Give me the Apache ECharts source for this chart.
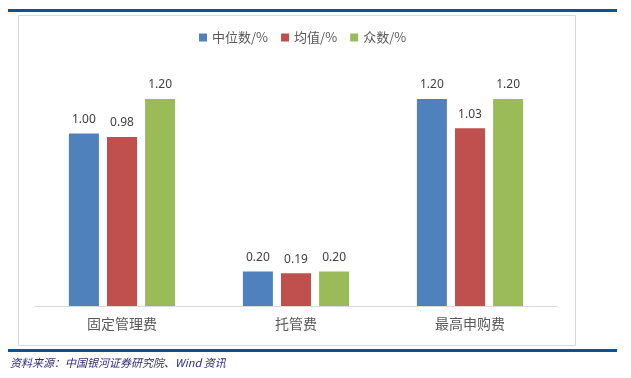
<!DOCTYPE html>
<html>
<head>
<meta charset="utf-8">
<script src="https://cdn.jsdelivr.net/npm/echarts@6/dist/echarts.min.js"></script>
<style>
	html, body { margin: 0; padding: 0; background: #fff; }
	#chart { width: 631px; height: 378px; }
</style>
</head>
<body>
<div id="chart"></div>
<script>
// 费率统计
var categories = ['固定管理费', '托管费', '最高申购费'];
var seriesNames = ['中位数/%', '均值/%', '众数/%'];
var medianVals = [1.00, 0.20, 1.20];
var meanVals = [0.98, 0.19, 1.03];
var modeVals = [1.20, 0.20, 1.20];
var colors = ['#4F81BD', '#C0504D', '#9BBB59'];

var feeChart = echarts.init(document.getElementById('chart'));

function makeSeries(name, data, color) {
	return {
		name: name,
		type: 'bar',
		barWidth: 30,
		barGap: '27%',
		data: data,
		itemStyle: { color: color },
		label: {
			show: true,
			position: 'top',
			distance: 8,
			color: '#404040',
			fontSize: 12,
			fontFamily: 'Noto Sans',
			formatter: function(p) { return p.value.toFixed(2); }
		}
	};
}

var option = {
	animation: false,
	textStyle: { fontFamily: 'Noto Sans CJK SC' },
	legend: {
		top: 26,
		left: 194,
		itemWidth: 8,
		itemHeight: 8,
		itemGap: 13,
		icon: 'rect',
		textStyle: { color: '#595959', fontSize: 13, fontFamily: 'Noto Sans CJK SC' },
		data: seriesNames
	},
	grid: {
		left: 35,
		right: 74,
		top: 64.5,
		bottom: 72
	},
	xAxis: {
		type: 'category',
		data: categories,
		axisLine: { lineStyle: { color: '#D9D9D9', width: 1 } },
		axisTick: { show: false },
		axisLabel: { color: '#595959', fontSize: 14, margin: 11, fontFamily: 'Noto Sans CJK SC' }
	},
	yAxis: {
		type: 'value',
		min: 0,
		max: 1.4,
		show: false,
		splitLine: { show: false }
	},
	series: [
		makeSeries(seriesNames[0], medianVals, colors[0]),
		makeSeries(seriesNames[1], meanVals, colors[1]),
		makeSeries(seriesNames[2], modeVals, colors[2])
	],
	graphic: [
		{ type: 'rect', shape: { x: 18.5, y: 15.5, width: 557, height: 330 }, style: { fill: 'none', stroke: '#D9D9D9', lineWidth: 1 }, z: -1 },
		{ type: 'rect', shape: { x: 8, y: 9, width: 609, height: 3 }, style: { fill: '#0B5394' } },
		{ type: 'rect', shape: { x: 8, y: 349, width: 609, height: 3 }, style: { fill: '#0B5394' } },
		{ type: 'text', left: 10, top: 357, style: { text: '资料来源：中国银河证券研究院、Wind 资讯', fill: '#2B2B7A', fontSize: 11, fontStyle: 'italic', fontFamily: 'Noto Sans CJK SC' } }
	]
};
feeChart.setOption(option, true);
</script>
</body>
</html>
